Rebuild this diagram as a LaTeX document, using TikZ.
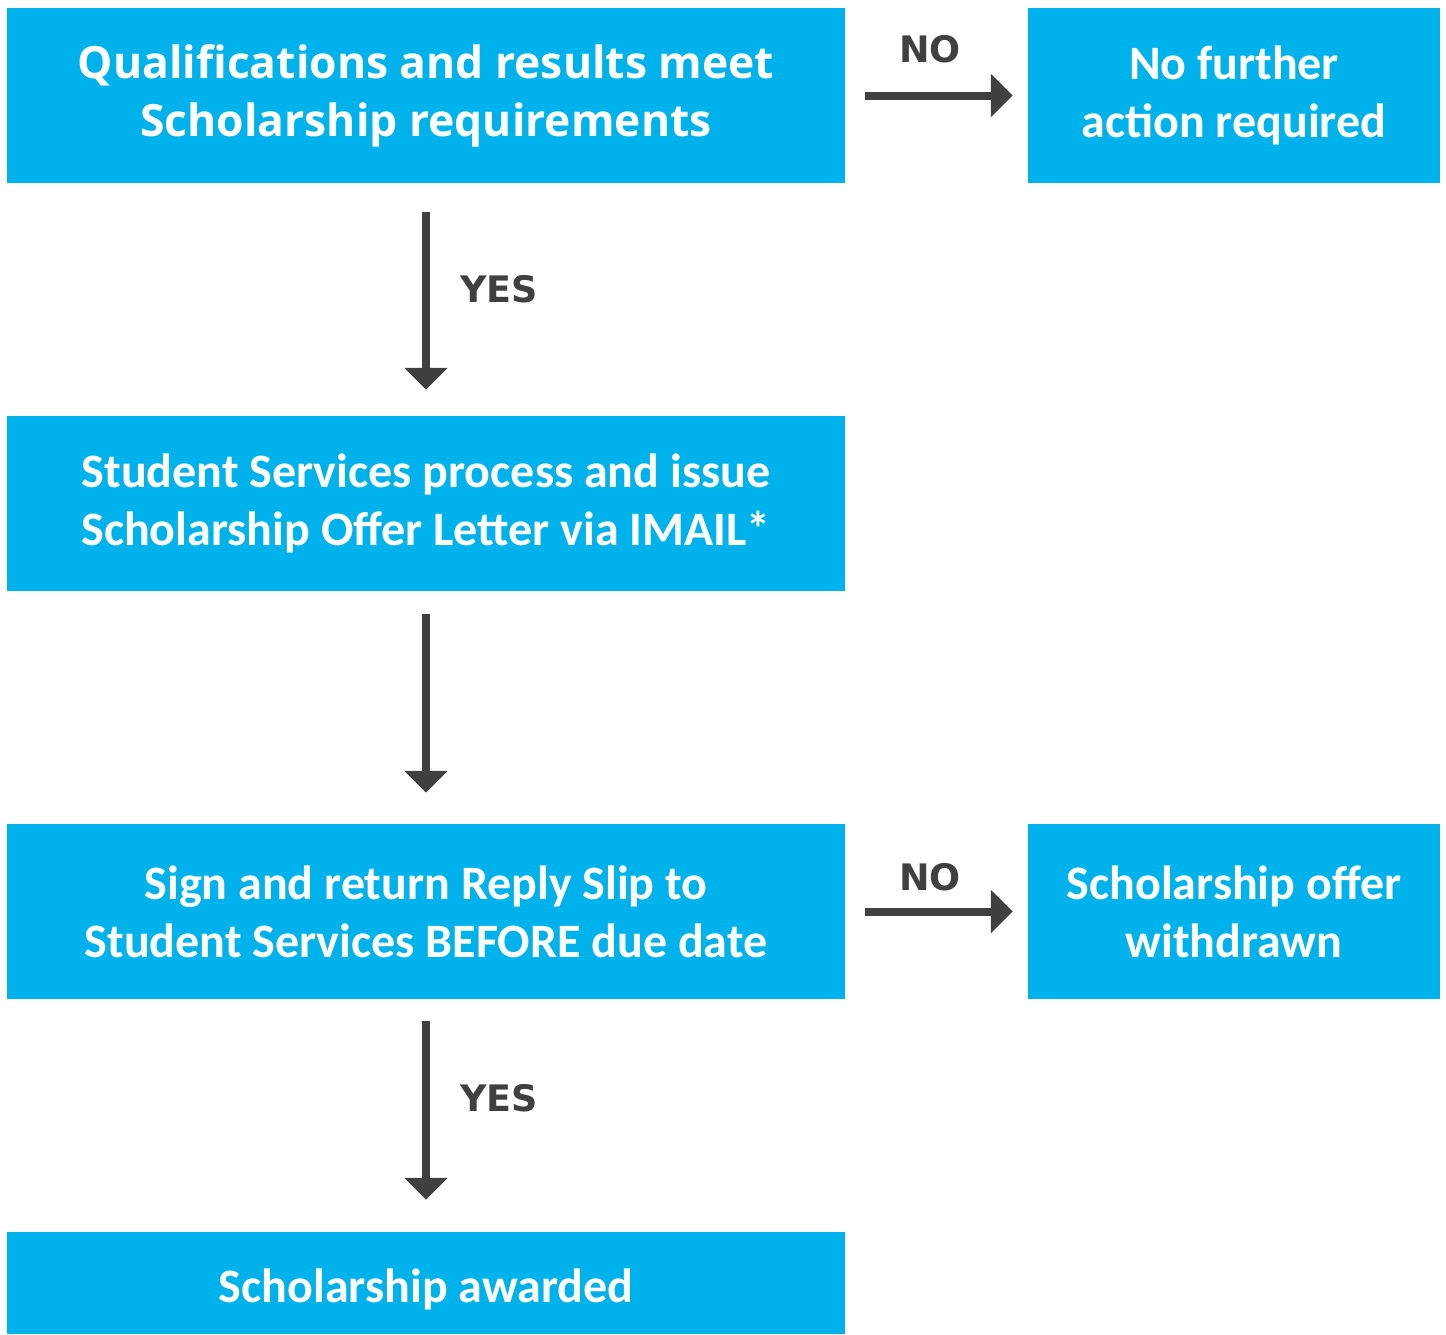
\documentclass[tikz,border=0pt]{standalone}
\usepackage{fontspec}
\setmainfont{Carlito}
\newfontfamily\lblfont{DejaVu Sans}
\newfontfamily\wideboxfont{Open Sans}
\usetikzlibrary{arrows.meta}
\definecolor{boxcyan}{HTML}{00B2EC}
\definecolor{arrowgray}{HTML}{404040}
\tikzset{
  flowbox/.style={fill=boxcyan, draw=none, inner sep=0pt, text=white,
    align=center, font=\bfseries\fontsize{48}{58}\selectfont, minimum height=175pt},
  widebox/.style={flowbox, minimum width=838pt},
  narrowbox/.style={flowbox, minimum width=412pt},
  lbl/.style={text=arrowgray, inner sep=0pt, font=\lblfont\bfseries\fontsize{36.5}{40}\selectfont},
  flowarrow/.style={draw=arrowgray, line width=8pt,
    -{Triangle[width=42pt,length=22pt]}}
}
\begin{document}
\begin{tikzpicture}[x=1pt,y=-1pt]
\useasboundingbox (0,0) rectangle (1446,1334);
\node[widebox, font=\wideboxfont\bfseries\fontsize{44.4}{58}\selectfont] (q) at (426,95.5) {Qualifications and results meet\\Scholarship requirements};
\node[narrowbox] (nf) at (1234,95.5) {No further\\action required};
\node[widebox] (ss) at (426,503.5) {Student Services process and issue\\Scholarship Offer Letter via IMAIL*};
\node[widebox] (sr) at (426,911.5) {Sign and return Reply Slip to\\Student Services BEFORE due date};
\node[narrowbox] (wd) at (1234,911.5) {Scholarship offer\\withdrawn};
\node[widebox, minimum height=102pt, text height=39pt, text depth=0pt] (aw) at (426,1283) {Scholarship awarded};

\draw[flowarrow, shorten <=29pt, shorten >=26pt] (q.south) -- (ss.north);
\draw[flowarrow, shorten <=23pt, shorten >=31pt] (ss.south) -- (sr.north);
\draw[flowarrow, shorten <=22pt, shorten >=32pt] (sr.south) -- (aw.north);
\draw[flowarrow, shorten <=20pt, shorten >=15pt] (q.east) -- (nf.west);
\draw[flowarrow, shorten <=20pt, shorten >=15pt] (sr.east) -- (wd.west);

\node[lbl, anchor=base] (no1) at (930,62) {NO};
\node[lbl, anchor=base] (yes1) at (499,302) {YES};
\node[lbl, anchor=base] (no2) at (930,890) {NO};
\node[lbl, anchor=base] (yes2) at (499,1111) {YES};
\end{tikzpicture}
\end{document}
